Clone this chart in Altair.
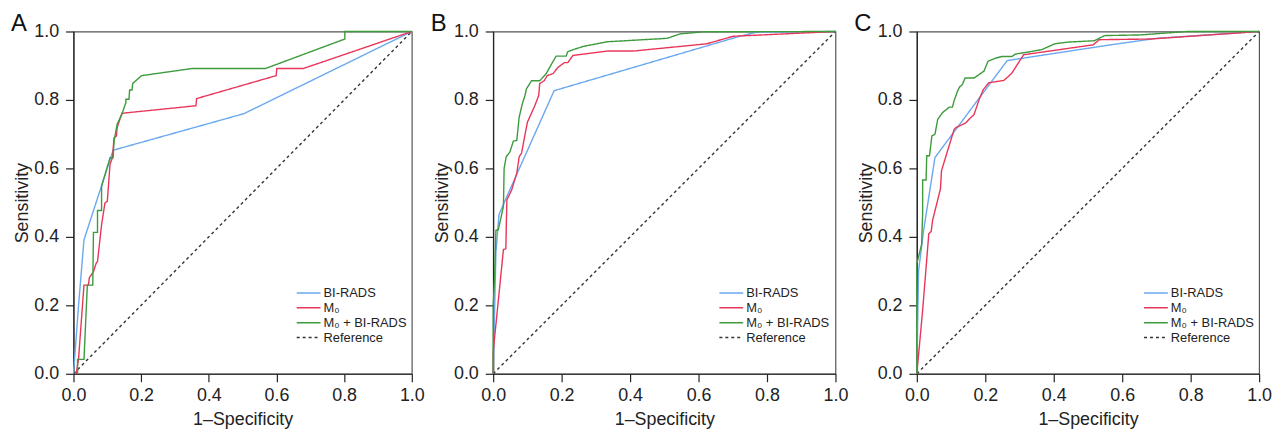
import altair as alt
import pandas as pd

FONT = "Liberation Sans, Arial, Helvetica, sans-serif"

SERIES = ["BI-RADS", "M₀", "M₀ + BI-RADS", "Reference"]
COLORS = ["#6aa8ef", "#e8365a", "#3d9a3d", "#333333"]
DASHES = [[1, 0], [1, 0], [1, 0], [3, 3]]
TICKS = [0.0, 0.2, 0.4, 0.6, 0.8, 1.0]

ref_x = [0.0, 1.0]
ref_y = [0.0, 1.0]

# ---- Panel A ----
A_bi_x = [0.0, 0.015, 0.031, 0.117, 0.504, 1.0]
A_bi_y = [0.0, 0.20, 0.391, 0.653, 0.760, 1.0]
A_m0_x = [0.008, 0.015, 0.031, 0.044, 0.047, 0.059, 0.067, 0.071, 0.083, 0.093, 0.100, 0.108,
          0.115, 0.120, 0.127, 0.129, 0.143, 0.362, 0.364, 0.599, 0.601, 0.680, 1.0]
A_m0_y = [0.0, 0.044, 0.259, 0.259, 0.281, 0.298, 0.323, 0.328, 0.435, 0.499, 0.504, 0.612,
          0.631, 0.690, 0.695, 0.719, 0.761, 0.783, 0.804, 0.871, 0.892, 0.892, 1.0]
A_cb_x = [0.012, 0.012, 0.031, 0.041, 0.057, 0.059, 0.071, 0.071, 0.083, 0.083, 0.108, 0.117,
          0.120, 0.129, 0.143, 0.155, 0.155, 0.164, 0.166, 0.173, 0.175, 0.201, 0.352, 0.568,
          0.802, 0.802, 1.0]
A_cb_y = [0.0, 0.042, 0.042, 0.259, 0.259, 0.413, 0.413, 0.477, 0.477, 0.548, 0.631, 0.631,
          0.680, 0.729, 0.758, 0.793, 0.802, 0.802, 0.829, 0.829, 0.848, 0.871, 0.892, 0.892,
          0.978, 1.0, 1.0]

# ---- Panel B ----
B_bi_x = [0.0, 0.008, 0.017, 0.040, 0.178, 0.720, 0.770, 1.0]
B_bi_y = [0.0, 0.354, 0.465, 0.518, 0.827, 0.986, 0.998, 1.0]
B_m0_x = [0.0, 0.0, 0.030, 0.037, 0.040, 0.054, 0.069, 0.076, 0.083, 0.088, 0.100, 0.122, 0.133,
          0.136, 0.149, 0.158, 0.175, 0.189, 0.208, 0.218, 0.233, 0.334, 0.411, 0.624, 0.701, 1.0]
B_m0_y = [0.0, 0.064, 0.363, 0.365, 0.508, 0.537, 0.586, 0.634, 0.645, 0.672, 0.735, 0.784, 0.813,
          0.848, 0.856, 0.871, 0.877, 0.895, 0.909, 0.909, 0.930, 0.943, 0.943, 0.964, 0.986, 1.0]
B_cb_x = [0.0, 0.0, 0.004, 0.008, 0.015, 0.030, 0.032, 0.038, 0.049, 0.059, 0.069, 0.076, 0.085,
          0.093, 0.097, 0.112, 0.136, 0.155, 0.170, 0.184, 0.213, 0.218, 0.237, 0.266, 0.334,
          0.508, 0.546, 0.614, 1.0]
B_cb_y = [0.0, 0.199, 0.276, 0.419, 0.421, 0.489, 0.600, 0.634, 0.648, 0.680, 0.682, 0.750, 0.788,
          0.813, 0.832, 0.856, 0.856, 0.877, 0.904, 0.928, 0.928, 0.941, 0.948, 0.957, 0.970,
          0.980, 0.993, 0.999, 1.0]

# ---- Panel C ----
C_bi_x = [0.0, 0.005, 0.020, 0.053, 0.264, 0.553, 0.700, 1.0]
C_bi_y = [0.0, 0.300, 0.420, 0.632, 0.915, 0.959, 0.980, 1.0]
C_m0_x = [0.0, 0.017, 0.035, 0.042, 0.046, 0.069, 0.072, 0.109, 0.114, 0.143, 0.157, 0.167, 0.182,
          0.194, 0.210, 0.254, 0.268, 0.278, 0.312, 0.515, 0.533, 0.683, 1.0]
C_m0_y = [0.0, 0.186, 0.409, 0.416, 0.448, 0.540, 0.593, 0.714, 0.719, 0.733, 0.748, 0.757, 0.801,
          0.830, 0.850, 0.857, 0.869, 0.879, 0.932, 0.961, 0.976, 0.978, 1.0]
C_cb_x = [0.0, 0.0, 0.014, 0.017, 0.017, 0.027, 0.029, 0.037, 0.044, 0.053, 0.061, 0.075, 0.095,
          0.104, 0.109, 0.119, 0.125, 0.133, 0.141, 0.167, 0.196, 0.208, 0.230, 0.249, 0.278,
          0.288, 0.326, 0.365, 0.403, 0.442, 0.519, 0.548, 0.654, 0.790, 1.0]
C_cb_y = [0.0, 0.322, 0.378, 0.467, 0.566, 0.566, 0.637, 0.637, 0.695, 0.700, 0.743, 0.763, 0.779,
          0.779, 0.798, 0.826, 0.838, 0.845, 0.864, 0.864, 0.884, 0.913, 0.922, 0.927, 0.927,
          0.934, 0.940, 0.947, 0.964, 0.969, 0.973, 0.988, 0.990, 1.0, 1.0]


def make_df(bx, by, mx, my, cx, cy):
    rows = []
    for name, xs, ys in [("Reference", ref_x, ref_y), ("BI-RADS", bx, by),
                         ("M₀", mx, my), ("M₀ + BI-RADS", cx, cy)]:
        for i, (xv, yv) in enumerate(zip(xs, ys)):
            rows.append({"series": name, "x": xv, "y": yv, "i": i})
    return pd.DataFrame(rows)


def panel(df, letter, w, h, lx, ly):
    leg = alt.Legend(title=None, orient="none", legendX=lx, legendY=ly,
                     symbolType="stroke", symbolSize=576, symbolStrokeWidth=1.5,
                     labelFontSize=13, labelFont=FONT, labelColor="#222",
                     labelOffset=2, rowPadding=0, clipHeight=15, padding=0)
    return alt.Chart(df).mark_line(strokeWidth=1.4).encode(
        x=alt.X("x:Q", scale=alt.Scale(domain=[0, 1], nice=False, zero=False),
                axis=alt.Axis(title="1–Specificity", values=TICKS, format=".1f",
                              labelPadding=5, titlePadding=6)),
        y=alt.Y("y:Q", scale=alt.Scale(domain=[0, 1], nice=False, zero=False),
                axis=alt.Axis(title="Sensitivity", values=TICKS, format=".1f",
                              labelPadding=7, titlePadding=2)),
        color=alt.Color("series:N", scale=alt.Scale(domain=SERIES, range=COLORS), legend=leg),
        strokeDash=alt.StrokeDash("series:N", scale=alt.Scale(domain=SERIES, range=DASHES), legend=leg),
        order=alt.Order("i:Q"),
    ).properties(
        width=w, height=h,
        title=alt.Title(letter, anchor="start", frame="bounds", fontSize=24, font=FONT,
                        fontWeight="normal", color="#111", offset=-14, dx=-3),
    )


pA = panel(make_df(A_bi_x, A_bi_y, A_m0_x, A_m0_y, A_cb_x, A_cb_y), "A", 341, 345, 224, 256)
pB = panel(make_df(B_bi_x, B_bi_y, B_m0_x, B_m0_y, B_cb_x, B_cb_y), "B", 345, 345, 227, 256)
pC = panel(make_df(C_bi_x, C_bi_y, C_m0_x, C_m0_y, C_cb_x, C_cb_y), "C", 345, 345, 228, 256)

chart = alt.hconcat(pA, pB, pC, spacing=4).resolve_scale(
    color="independent", strokeDash="independent"
).properties(
    padding={"left": 2, "top": 2, "right": 2, "bottom": 0}
).configure_axis(
    labelFont=FONT, titleFont=FONT, labelFontSize=18, titleFontSize=18,
    titleFontWeight="normal", labelColor="#222", titleColor="#222",
    domainColor="#222", tickColor="#222", tickSize=8, domainWidth=1.2, tickWidth=1.2,
    grid=False, labelFlush=False, labelOverlap=False,
).configure_view(stroke="#555", strokeWidth=1.2)

chart.save("out.html", embed_options={"renderer": "svg", "actions": False})
